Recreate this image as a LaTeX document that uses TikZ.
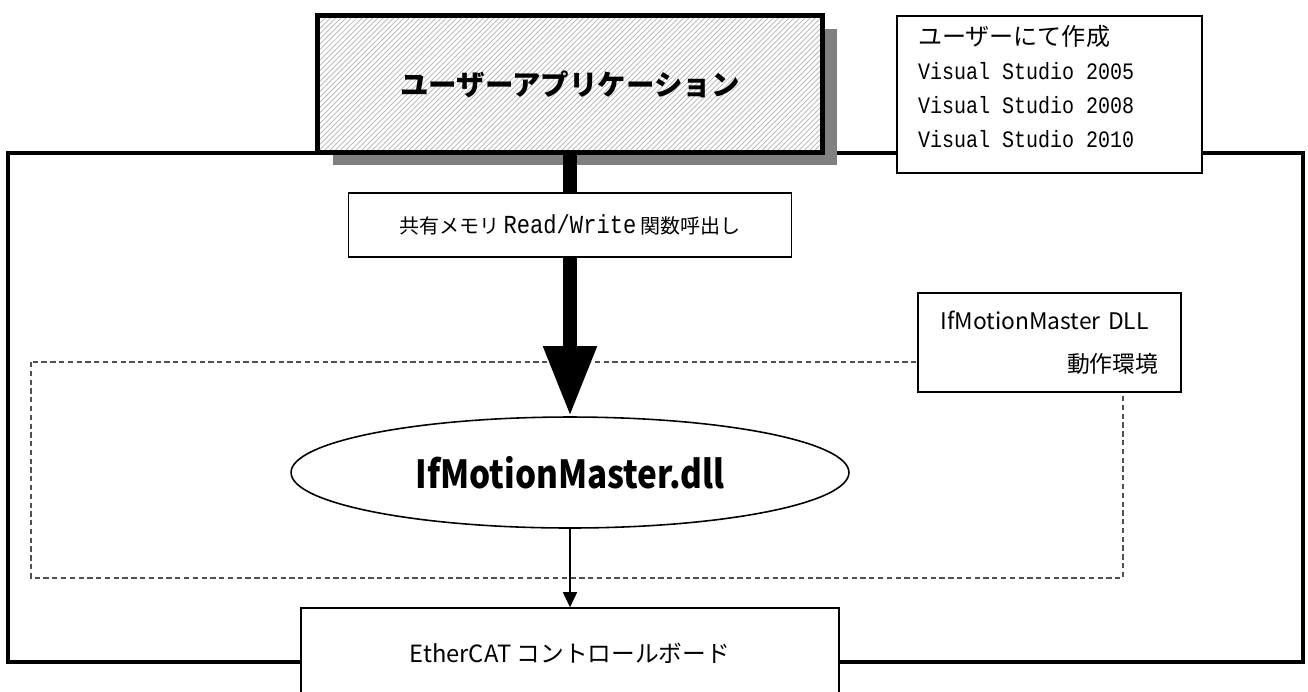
\documentclass[tikz,border=0pt]{standalone}
\usepackage{fontspec}
\setmainfont{Noto Sans CJK JP}
\newfontfamily\vsmono{Liberation Mono}[FakeStretch=0.85]
\newfontfamily\dllfont{Noto Sans CJK JP}[FakeStretch=0.86]
\usepackage{tikz}
\usetikzlibrary{shapes.geometric, arrows.meta, patterns, shadows}
\definecolor{DiagBlack}{HTML}{000000}
\definecolor{DiagWhite}{HTML}{ffffff}
\definecolor{DiagShadow}{HTML}{808080}
\definecolor{DiagHatch}{HTML}{B4B4B4}
\definecolor{DiagDash}{HTML}{505050}
\tikzset{
    % Node styles - all with sharp corners
    appbox/.style={
        rectangle,
        draw=DiagBlack,
        line width=2.8pt,
        minimum width=10.1cm,
        minimum height=2.74cm,
        drop shadow={shadow xshift=0.3cm, shadow yshift=-0.26cm, fill=DiagShadow, opacity=1},
        preaction={fill=DiagWhite},
        pattern=north east lines,
        pattern color=DiagHatch,
        font=\fontsize{16.2pt}{16.2pt}\selectfont\bfseries
    },
    notebox/.style={
        rectangle,
        draw=DiagBlack,
        fill=DiagWhite,
        line width=0.9pt,
        inner sep=0pt
    },
    dllnode/.style={
        ellipse,
        draw=DiagBlack,
        fill=DiagWhite,
        line width=0.9pt,
        inner sep=0pt,
        minimum width=11.16cm,
        minimum height=2.22cm,
        font=\dllfont\fontsize{22pt}{22pt}\selectfont\bfseries
    },
    % Arrow styles
    bigarrow/.style={
        -{Triangle[length=1.4cm,width=1cm]},
        line width=0.28cm,
        DiagBlack
    },
    myarrow/.style={
        -{Triangle[length=0.3cm,width=0.28cm]},
        line width=0.9pt,
        DiagBlack
    },
    % Frame styles
    hostframe/.style={
        draw=DiagBlack,
        line width=2.3pt
    },
    envframe/.style={
        draw=DiagDash,
        line width=0.6pt,
        dash pattern=on 3pt off 2pt
    }
}

\begin{document}
\begin{tikzpicture}[x=0.02cm, y=-0.02cm]
                \useasboundingbox (0,0) rectangle (1308,691);
                \clip (0,0) rectangle (1308,691);

                % Frames
                \draw[hostframe] (8,153) rectangle (1303,662);
                \draw[envframe] (31,362) rectangle (1123,578);

                % User application and its tools
                \node[appbox] (app) at (570,84) {ユーザーアプリケーション};
                \node[notebox,minimum width=6.1cm,minimum height=3.14cm,font=\fontsize{13.4pt}{19.35pt}\selectfont] (tools) at (1049.5,94.5) {\raisebox{0.1cm}[\height][\depth]{\begin{tabular}{@{}p{5.26cm}@{}}
                    {\fontsize{13.7pt}{19.35pt}\selectfont ユーザーにて作成}\\
                    {\vsmono Visual Studio 2005}\\
                    {\vsmono Visual Studio 2008}\\
                    {\vsmono Visual Studio 2010}
                \end{tabular}}};

                % DLL and board
                \node[dllnode] (dll) at (570,472.5) {IfMotionMaster.dll};
                \node[notebox,minimum width=10.76cm,minimum height=1.8cm,font=\fontsize{13.5pt}{13.5pt}\selectfont] (board) at (570,653) {EtherCAT コントロールボード};
                \node[notebox,minimum width=5.26cm,minimum height=1.98cm,align=left,text width=4.36cm,font=\fontsize{13pt}{24.5pt}\selectfont] (dllenv) at (1049.5,342.5) {IfMotionMaster DLL\\\hspace*{\fill}動作環境};

                % Arrows
                \draw[bigarrow] (app.south) -- (dll.north);
                \draw[myarrow] (dll.south) -- (board.north);

                % Shared memory call
                \node[notebox,minimum width=8.86cm,minimum height=1.28cm,font=\fontsize{11.4pt}{11.4pt}\selectfont] (shmem) at (570,225) {共有メモリ {\vsmono\fontsize{14.8pt}{14.8pt}\selectfont Read/Write} 関数呼出し};
            \end{tikzpicture}
\end{document}
